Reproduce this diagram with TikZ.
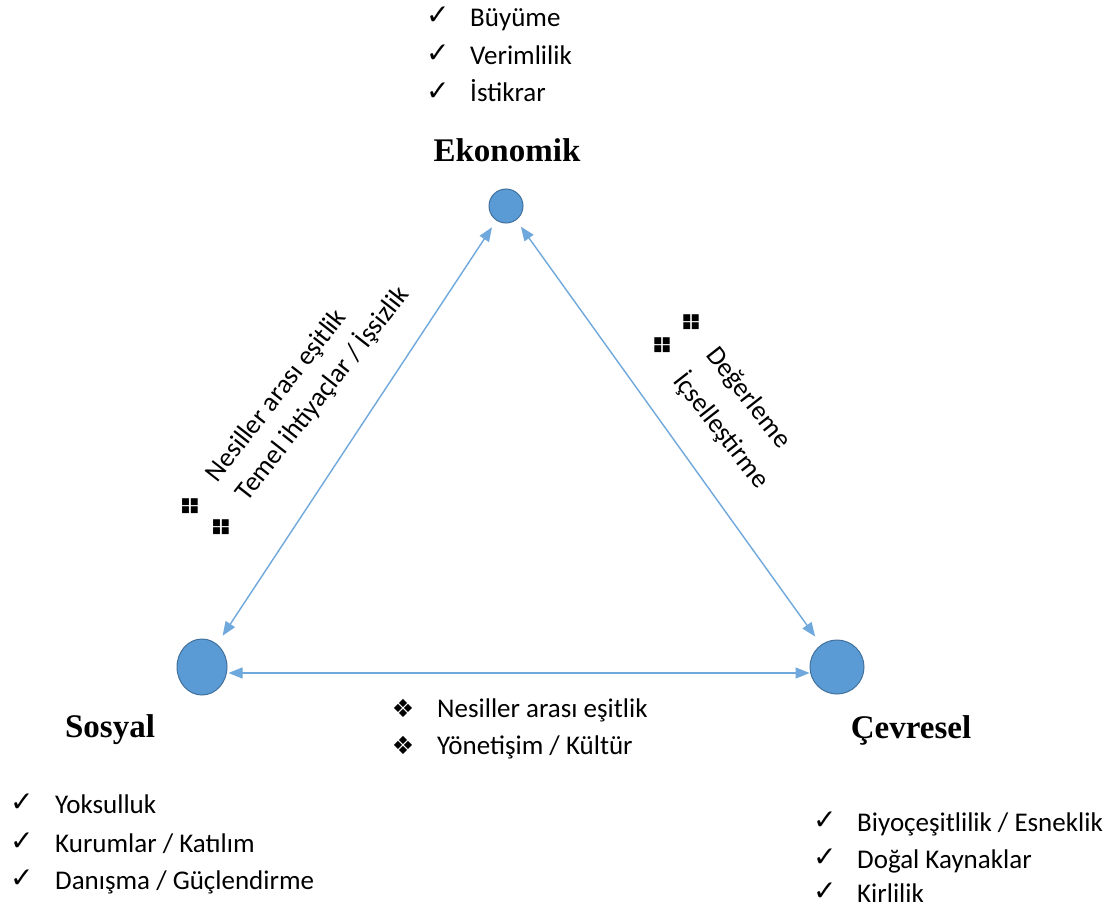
\documentclass[tikz,border=0pt]{standalone}
\usepackage{fontspec}
\setmainfont{Carlito}
\newfontfamily\serifb{Liberation Serif}
\newfontfamily\symf{DejaVu Sans}
\usetikzlibrary{arrows.meta,shapes.geometric}
\definecolor{dotblue}{HTML}{5B9BD5}
\definecolor{dotedge}{HTML}{41719C}
\definecolor{linkblue}{HTML}{6FA8DC}
\begin{document}
\begin{tikzpicture}[x=1pt,y=-1pt,
  dot/.style={circle,fill=dotblue,draw=dotedge,line width=1pt,inner sep=0pt},
  link/.style={draw=linkblue,line width=1.4pt,{Triangle[length=14pt,width=11pt]}-{Triangle[length=14pt,width=11pt]}},
  title/.style={font=\serifb\bfseries\fontsize{33}{38}\selectfont,inner sep=0pt},
  item/.style={font=\fontsize{27}{30}\selectfont,anchor=base west,inner sep=0pt},
  chk/.style={font=\symf\fontsize{28}{30}\selectfont,anchor=base west,inner sep=0pt},
  dia/.style={font=\symf\fontsize{25}{28}\selectfont,inner sep=0pt},
  quad/.style={font=\symf\fontsize{9}{7.5}\selectfont,align=center,inner sep=0pt},
  rot/.style={font=\fontsize{27}{30}\selectfont,inner sep=0pt}
]
\path[use as bounding box,fill=white] (0,0) rectangle (1120,907);

% circles
\node[dot,minimum size=34pt] (E) at (506,206) {};
\node[dot,ellipse,minimum width=50pt,minimum height=56pt] (S) at (202,667) {};
\node[dot,minimum size=54pt] (C) at (837,667) {};

% titles
\node[title] (tE) at (507,150) {Ekonomik};
\node[title] (tS) at (110,730) {Sosyal};
\node[title] (tC) at (911,730) {Çevresel};

% connectors
\draw[link,shorten <=10pt,shorten >=8pt] (S) -- (E);
\draw[link,shorten <=8pt,shorten >=10pt] (E) -- (C);
\draw[link,shorten <=1pt,shorten >=0pt] ([yshift=-6pt]S.east) -- ([yshift=-6pt]C.west);

% top list
\node[chk] (ce1) at (426,25) {✓};
\node[item] (e1) at (470,27) {Büyüme};
\node[chk] (ce2) at (426,63) {✓};
\node[item] (e2) at (470,65) {Verimlilik};
\node[chk] (ce3) at (426,100) {✓};
\node[item] (e3) at (470,102) {İstikrar};

% sosyal list
\node[chk] (cs1) at (10,811) {✓};
\node[item] (s1) at (55,813) {Yoksulluk};
\node[chk] (cs2) at (10,850) {✓};
\node[item] (s2) at (55,852) {Kurumlar / Katılım};
\node[chk] (cs3) at (10,887) {✓};
\node[item] (s3) at (55,889) {Danışma / Güçlendirme};

% cevresel list
\node[chk] (cc1) at (813,829) {✓};
\node[item] (c1) at (857,831) {Biyoçeşitlilik / Esneklik};
\node[chk] (cc2) at (813,866) {✓};
\node[item] (c2) at (857,868) {Doğal Kaynaklar};
\node[chk] (cc3) at (813,900) {✓};
\node[item] (c3) at (857,902) {Kirlilik};

% bottom middle list
\node[dia] (d1) at (403,708) {❖};
\node[item] (m1) at (437,717) {Nesiller arası eşitlik};
\node[dia] (d2) at (403,745) {❖};
\node[item] (m2) at (437,754) {Yönetişim / Kültür};

% left diagonal labels
\node[rot,rotate=52] (l1) at (277,396) {Nesiller arası eşitlik};
\node[rot,rotate=52] (l2) at (322,393) {Temel ihtiyaçlar / İşsizlik};
\node[quad] (q1) at (190,506) {■■\\■■};
\node[quad] (q2) at (221,527) {■■\\■■};

% right diagonal labels
\node[rot,rotate=-52] (r1) at (748,398) {Değerleme};
\node[rot,rotate=-52] (r2) at (722,430) {İçselleştirme};
\node[quad] (q3) at (691,322) {■■\\■■};
\node[quad] (q4) at (662,345) {■■\\■■};
\end{tikzpicture}
\end{document}
